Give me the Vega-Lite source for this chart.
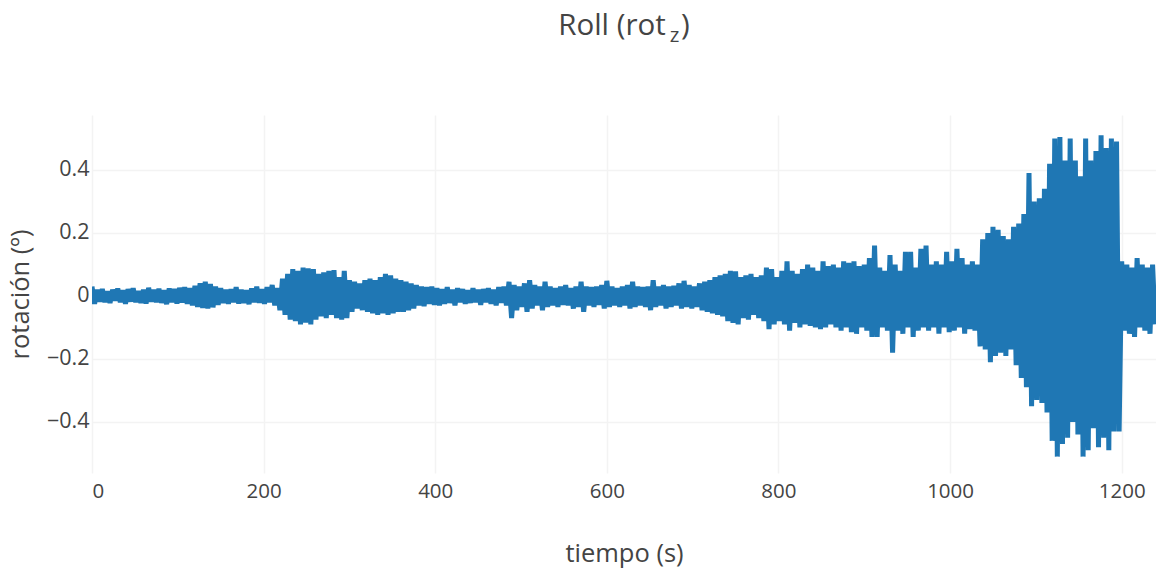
{
  "$schema": "https://vega.github.io/schema/vega-lite/v6.json",
  "width": 1064,
  "height": 358,
  "autosize": {"type": "none"},
  "padding": {"left": 92, "top": 115, "right": 0, "bottom": 96},
  "background": "white",
  "config": {"font": "Open Sans", "view": {"stroke": null}},
  "title": {
    "text": "Roll (rot\u00a0\u00a0)",
    "subtitle": "\u200b\u00a0\u00a0\u00a0\u00a0\u00a0\u00a0\u00a0\u00a0\u00a0\u00a0\u00a0\u00a0\u00a0\u00a0\u00a0\u00a0\u00a0\u00a0\u00a0z",
    "anchor": "middle",
    "frame": "group",
    "fontSize": 29.5,
    "fontWeight": "normal",
    "color": "#444444",
    "subtitleFontSize": 20.5,
    "subtitleColor": "#444444",
    "subtitlePadding": -16,
    "offset": 68
  },
  "data": {
    "values": [
      {"t":0,"v":0.03},{"t":3,"v":-0.025},{"t":6,"v":0.02},{"t":9,"v":-0.018},{"t":12,"v":0.022},{"t":15,"v":-0.02},
      {"t":18,"v":0.015},{"t":21,"v":-0.022},{"t":24,"v":0.02},{"t":27,"v":-0.015},{"t":30,"v":0.024},{"t":33,"v":-0.02},
      {"t":36,"v":0.018},{"t":39,"v":-0.025},{"t":42,"v":0.022},{"t":45,"v":-0.018},{"t":48,"v":0.025},{"t":51,"v":-0.02},
      {"t":54,"v":0.016},{"t":57,"v":-0.022},{"t":60,"v":0.02},{"t":63,"v":-0.024},{"t":66,"v":0.026},{"t":69,"v":-0.018},
      {"t":72,"v":0.02},{"t":75,"v":-0.02},{"t":78,"v":0.023},{"t":81,"v":-0.022},{"t":84,"v":0.018},{"t":87,"v":-0.026},
      {"t":90,"v":0.024},{"t":93,"v":-0.02},{"t":96,"v":0.022},{"t":99,"v":-0.024},{"t":102,"v":0.026},{"t":105,"v":-0.021},
      {"t":108,"v":0.028},{"t":111,"v":-0.025},{"t":114,"v":0.025},{"t":117,"v":-0.03},{"t":120,"v":0.032},{"t":123,"v":-0.035},
      {"t":126,"v":0.04},{"t":129,"v":-0.038},{"t":132,"v":0.045},{"t":135,"v":-0.04},{"t":138,"v":0.038},{"t":141,"v":-0.036},
      {"t":144,"v":0.03},{"t":147,"v":-0.028},{"t":150,"v":0.025},{"t":153,"v":-0.022},{"t":156,"v":0.02},{"t":159,"v":-0.025},
      {"t":162,"v":0.022},{"t":165,"v":-0.02},{"t":168,"v":0.028},{"t":171,"v":-0.024},{"t":174,"v":0.02},{"t":177,"v":-0.022},
      {"t":180,"v":0.018},{"t":183,"v":-0.026},{"t":186,"v":0.024},{"t":189,"v":-0.02},{"t":192,"v":0.03},{"t":195,"v":-0.022},
      {"t":198,"v":0.022},{"t":201,"v":-0.025},{"t":204,"v":0.028},{"t":207,"v":-0.02},{"t":210,"v":0.035},{"t":213,"v":-0.03},
      {"t":216,"v":0.025},{"t":219,"v":-0.045},{"t":222,"v":0.055},{"t":225,"v":-0.06},{"t":228,"v":0.07},{"t":231,"v":-0.075},
      {"t":234,"v":0.085},{"t":237,"v":-0.08},{"t":240,"v":0.08},{"t":243,"v":-0.09},{"t":246,"v":0.09},{"t":249,"v":-0.085},
      {"t":252,"v":0.088},{"t":255,"v":-0.09},{"t":258,"v":0.085},{"t":261,"v":-0.075},{"t":264,"v":0.07},{"t":267,"v":-0.065},
      {"t":270,"v":0.075},{"t":273,"v":-0.07},{"t":276,"v":0.08},{"t":279,"v":-0.06},{"t":282,"v":0.082},{"t":285,"v":-0.07},
      {"t":288,"v":0.06},{"t":291,"v":-0.075},{"t":294,"v":0.08},{"t":297,"v":-0.07},{"t":300,"v":0.05},{"t":303,"v":-0.05},
      {"t":306,"v":0.045},{"t":309,"v":-0.04},{"t":312,"v":0.04},{"t":315,"v":-0.045},{"t":318,"v":0.05},{"t":321,"v":-0.05},
      {"t":324,"v":0.055},{"t":327,"v":-0.055},{"t":330,"v":0.05},{"t":333,"v":-0.06},{"t":336,"v":0.06},{"t":339,"v":-0.055},
      {"t":342,"v":0.07},{"t":345,"v":-0.06},{"t":348,"v":0.065},{"t":351,"v":-0.055},{"t":354,"v":0.055},{"t":357,"v":-0.05},
      {"t":360,"v":0.05},{"t":363,"v":-0.05},{"t":366,"v":0.045},{"t":369,"v":-0.045},{"t":372,"v":0.04},{"t":375,"v":-0.04},
      {"t":378,"v":0.035},{"t":381,"v":-0.03},{"t":384,"v":0.03},{"t":387,"v":-0.032},{"t":390,"v":0.028},{"t":393,"v":-0.025},
      {"t":396,"v":0.03},{"t":399,"v":-0.028},{"t":402,"v":0.025},{"t":405,"v":-0.03},{"t":408,"v":0.022},{"t":411,"v":-0.025},
      {"t":414,"v":0.028},{"t":417,"v":-0.022},{"t":420,"v":0.02},{"t":423,"v":-0.03},{"t":426,"v":0.025},{"t":429,"v":-0.02},
      {"t":432,"v":0.022},{"t":435,"v":-0.025},{"t":438,"v":0.018},{"t":441,"v":-0.022},{"t":444,"v":0.025},{"t":447,"v":-0.02},
      {"t":450,"v":0.02},{"t":453,"v":-0.028},{"t":456,"v":0.022},{"t":459,"v":-0.02},{"t":462,"v":0.025},{"t":465,"v":-0.025},
      {"t":468,"v":0.02},{"t":471,"v":-0.03},{"t":474,"v":0.028},{"t":477,"v":-0.022},{"t":480,"v":0.03},{"t":483,"v":-0.03},
      {"t":486,"v":0.045},{"t":489,"v":-0.07},{"t":492,"v":0.035},{"t":495,"v":-0.045},{"t":498,"v":0.03},{"t":501,"v":-0.035},
      {"t":504,"v":0.04},{"t":507,"v":-0.05},{"t":510,"v":0.05},{"t":513,"v":-0.04},{"t":516,"v":0.035},{"t":519,"v":-0.03},
      {"t":522,"v":0.03},{"t":525,"v":-0.045},{"t":528,"v":0.045},{"t":531,"v":-0.035},{"t":534,"v":0.03},{"t":537,"v":-0.03},
      {"t":540,"v":0.025},{"t":543,"v":-0.035},{"t":546,"v":0.03},{"t":549,"v":-0.028},{"t":552,"v":0.035},{"t":555,"v":-0.03},
      {"t":558,"v":0.025},{"t":561,"v":-0.04},{"t":564,"v":0.03},{"t":567,"v":-0.035},{"t":570,"v":0.045},{"t":573,"v":-0.05},
      {"t":576,"v":0.03},{"t":579,"v":-0.03},{"t":582,"v":0.028},{"t":585,"v":-0.035},{"t":588,"v":0.03},{"t":591,"v":-0.028},
      {"t":594,"v":0.035},{"t":597,"v":-0.04},{"t":600,"v":0.048},{"t":603,"v":-0.035},{"t":606,"v":0.03},{"t":609,"v":-0.03},
      {"t":612,"v":0.025},{"t":615,"v":-0.035},{"t":618,"v":0.03},{"t":621,"v":-0.03},{"t":624,"v":0.035},{"t":627,"v":-0.04},
      {"t":630,"v":0.045},{"t":633,"v":-0.035},{"t":636,"v":0.03},{"t":639,"v":-0.03},{"t":642,"v":0.028},{"t":645,"v":-0.035},
      {"t":648,"v":0.03},{"t":651,"v":-0.045},{"t":654,"v":0.05},{"t":657,"v":-0.035},{"t":660,"v":0.03},{"t":663,"v":-0.03},
      {"t":666,"v":0.035},{"t":669,"v":-0.04},{"t":672,"v":0.03},{"t":675,"v":-0.035},{"t":678,"v":0.032},{"t":681,"v":-0.03},
      {"t":684,"v":0.04},{"t":687,"v":-0.04},{"t":690,"v":0.048},{"t":693,"v":-0.035},{"t":696,"v":0.035},{"t":699,"v":-0.04},
      {"t":702,"v":0.03},{"t":705,"v":-0.035},{"t":708,"v":0.04},{"t":711,"v":-0.045},{"t":714,"v":0.045},{"t":717,"v":-0.05},
      {"t":720,"v":0.05},{"t":723,"v":-0.055},{"t":726,"v":0.06},{"t":729,"v":-0.06},{"t":732,"v":0.065},{"t":735,"v":-0.065},
      {"t":738,"v":0.07},{"t":741,"v":-0.08},{"t":744,"v":0.08},{"t":747,"v":-0.085},{"t":750,"v":0.078},{"t":753,"v":-0.09},
      {"t":756,"v":0.06},{"t":759,"v":-0.07},{"t":762,"v":0.065},{"t":765,"v":-0.075},{"t":768,"v":0.07},{"t":771,"v":-0.06},
      {"t":774,"v":0.06},{"t":777,"v":-0.07},{"t":780,"v":0.065},{"t":783,"v":-0.08},{"t":786,"v":0.09},{"t":789,"v":-0.105},
      {"t":792,"v":0.085},{"t":795,"v":-0.09},{"t":798,"v":0.06},{"t":801,"v":-0.08},{"t":804,"v":0.08},{"t":807,"v":-0.09},
      {"t":810,"v":0.11},{"t":813,"v":-0.11},{"t":816,"v":0.08},{"t":819,"v":-0.085},{"t":822,"v":0.07},{"t":825,"v":-0.1},
      {"t":828,"v":0.085},{"t":831,"v":-0.09},{"t":834,"v":0.1},{"t":837,"v":-0.095},{"t":840,"v":0.09},{"t":843,"v":-0.1},
      {"t":846,"v":0.08},{"t":849,"v":-0.105},{"t":852,"v":0.11},{"t":855,"v":-0.1},{"t":858,"v":0.095},{"t":861,"v":-0.09},
      {"t":864,"v":0.1},{"t":867,"v":-0.1},{"t":870,"v":0.09},{"t":873,"v":-0.11},{"t":876,"v":0.11},{"t":879,"v":-0.1},
      {"t":882,"v":0.105},{"t":885,"v":-0.115},{"t":888,"v":0.11},{"t":891,"v":-0.12},{"t":894,"v":0.095},{"t":897,"v":-0.1},
      {"t":900,"v":0.1},{"t":903,"v":-0.11},{"t":906,"v":0.12},{"t":909,"v":-0.13},{"t":912,"v":0.16},{"t":915,"v":-0.13},
      {"t":918,"v":0.09},{"t":921,"v":-0.1},{"t":924,"v":0.08},{"t":927,"v":-0.11},{"t":930,"v":0.13},{"t":933,"v":-0.18},
      {"t":936,"v":0.1},{"t":939,"v":-0.11},{"t":942,"v":0.08},{"t":945,"v":-0.12},{"t":948,"v":0.14},{"t":951,"v":-0.1},
      {"t":954,"v":0.14},{"t":957,"v":-0.13},{"t":960,"v":0.09},{"t":963,"v":-0.11},{"t":966,"v":0.15},{"t":969,"v":-0.1},
      {"t":972,"v":0.16},{"t":975,"v":-0.11},{"t":978,"v":0.1},{"t":981,"v":-0.1},{"t":984,"v":0.11},{"t":987,"v":-0.12},
      {"t":990,"v":0.1},{"t":993,"v":-0.1},{"t":996,"v":0.14},{"t":999,"v":-0.115},{"t":1002,"v":0.11},{"t":1005,"v":-0.11},
      {"t":1008,"v":0.15},{"t":1011,"v":-0.1},{"t":1014,"v":0.12},{"t":1017,"v":-0.12},{"t":1020,"v":0.1},{"t":1023,"v":-0.105},
      {"t":1026,"v":0.11},{"t":1029,"v":-0.11},{"t":1032,"v":0.1},{"t":1035,"v":-0.16},{"t":1038,"v":0.18},{"t":1041,"v":-0.17},
      {"t":1044,"v":0.2},{"t":1047,"v":-0.21},{"t":1050,"v":0.22},{"t":1053,"v":-0.19},{"t":1056,"v":0.21},{"t":1059,"v":-0.18},
      {"t":1062,"v":0.19},{"t":1065,"v":-0.19},{"t":1068,"v":0.18},{"t":1071,"v":-0.17},{"t":1074,"v":0.22},{"t":1077,"v":-0.22},
      {"t":1080,"v":0.23},{"t":1083,"v":-0.26},{"t":1086,"v":0.26},{"t":1089,"v":-0.29},{"t":1092,"v":0.39},{"t":1095,"v":-0.35},
      {"t":1098,"v":0.3},{"t":1101,"v":-0.33},{"t":1104,"v":0.31},{"t":1107,"v":-0.34},{"t":1110,"v":0.34},{"t":1113,"v":-0.37},
      {"t":1116,"v":0.42},{"t":1119,"v":-0.46},{"t":1122,"v":0.5},{"t":1125,"v":-0.51},{"t":1128,"v":0.505},{"t":1131,"v":-0.47},
      {"t":1134,"v":0.43},{"t":1137,"v":-0.45},{"t":1140,"v":0.5},{"t":1143,"v":-0.4},{"t":1146,"v":0.43},{"t":1149,"v":-0.44},
      {"t":1152,"v":0.38},{"t":1155,"v":-0.51},{"t":1158,"v":0.5},{"t":1161,"v":-0.49},{"t":1164,"v":0.43},{"t":1167,"v":-0.42},
      {"t":1170,"v":0.46},{"t":1173,"v":-0.48},{"t":1176,"v":0.51},{"t":1179,"v":-0.45},{"t":1182,"v":0.47},{"t":1185,"v":-0.49},
      {"t":1188,"v":0.5},{"t":1191,"v":-0.43},{"t":1194,"v":0.49},{"t":1197,"v":-0.43},{"t":1200,"v":0.11},{"t":1203,"v":-0.11},
      {"t":1206,"v":0.1},{"t":1209,"v":-0.12},{"t":1212,"v":0.09},{"t":1215,"v":-0.13},{"t":1218,"v":0.12},{"t":1221,"v":-0.1},
      {"t":1224,"v":0.1},{"t":1227,"v":-0.11},{"t":1230,"v":0.09},{"t":1233,"v":-0.12},{"t":1236,"v":0.1},{"t":1239,"v":-0.09}
    ]
  },
  "mark": {"type": "line", "color": "#1f77b4", "strokeWidth": 5, "strokeJoin": "miter", "clip": true},
  "encoding": {
    "x": {
      "field": "t",
      "type": "quantitative",
      "scale": {"domain": [0, 1240], "nice": false, "zero": false},
      "axis": {
        "title": "tiempo (s)",
        "values": [0, 200, 400, 600, 800, 1000, 1200],
        "format": "d",
        "domain": false,
        "ticks": false,
        "labelFontSize": 20.5,
        "labelColor": "#444444",
        "labelPadding": 8,
        "gridColor": "#f3f3f3",
        "gridWidth": 1.5,
        "titleFontSize": 25.5,
        "titleFontWeight": "normal",
        "titleColor": "#444444",
        "titlePadding": 40
      }
    },
    "y": {
      "field": "v",
      "type": "quantitative",
      "scale": {"domain": [-0.562, 0.5746], "nice": false, "zero": false},
      "axis": {
        "title": "rotación (º)",
        "values": [-0.4, -0.2, 0, 0.2, 0.4],
        "labelExpr": "datum.value == 0 ? '0' : replace(format(datum.value, '.1f'), '-', '\u2212')",
        "domain": false,
        "ticks": false,
        "labelFontSize": 21.5,
        "labelColor": "#444444",
        "labelPadding": 3,
        "gridColor": "#f3f3f3",
        "gridWidth": 1.5,
        "titleFontSize": 25.5,
        "titleFontWeight": "normal",
        "titleColor": "#444444",
        "titlePadding": 13
      }
    }
  }
}
